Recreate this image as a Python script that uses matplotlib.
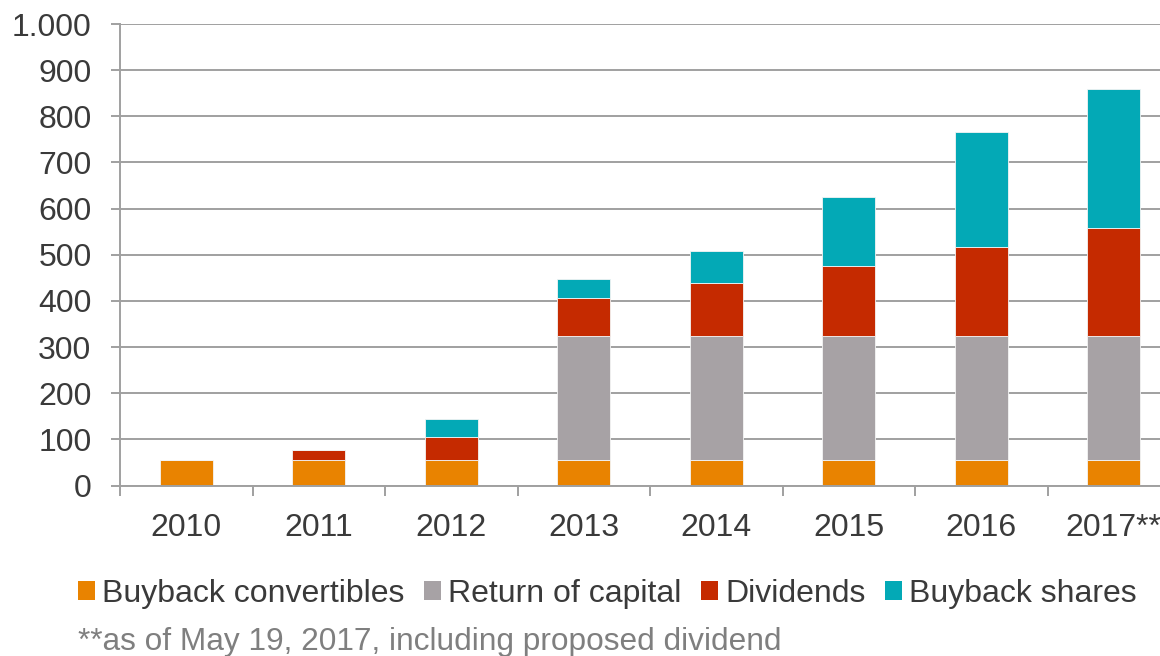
import matplotlib
matplotlib.use("Agg")
import matplotlib.pyplot as plt
import matplotlib.ticker as ticker
from matplotlib.patches import Patch

# Data
years = ["2010", "2011", "2012", "2013", "2014", "2015", "2016", "2017**"]
buyback_convertibles = [55, 55, 55, 55, 55, 55, 55, 55]
return_of_capital = [0, 0, 0, 270, 270, 270, 270, 270]
dividends = [0, 23, 50, 81, 113, 151, 192, 234]
buyback_shares = [0, 0, 40, 42, 70, 150, 250, 301]

series = [
    ("Buyback convertibles", buyback_convertibles, "#E98300"),
    ("Return of capital", return_of_capital, "#A7A2A5"),
    ("Dividends", dividends, "#C52A00"),
    ("Buyback shares", buyback_shares, "#03A9B6"),
]

plt.rcParams["font.family"] = ["Liberation Sans", "DejaVu Sans"]
text_color = "#3a3a3a"
grid_color = "#a0a0a0"

fig = plt.figure(figsize=(11.6, 6.56), dpi=100)
# axes runs past the right edge of the figure (cropped like the original)
ax = fig.add_axes([120 / 1160, (656 - 485.5) / 656, 1060 / 1160, 461.5 / 656])

x = list(range(len(years)))
bottom = [0] * len(years)
for name, values, color in series:
    ax.bar(x, values, width=0.4, bottom=bottom, color=color,
           edgecolor="#f4f4f4", linewidth=0.6, label=name, zorder=2)
    bottom = [b + v for b, v in zip(bottom, values)]

ax.set_xlim(-0.5, len(years) - 0.5)
ax.set_ylim(0, 1000)

# Y axis
ax.yaxis.set_major_locator(ticker.MultipleLocator(100))
ax.yaxis.set_major_formatter(ticker.FuncFormatter(lambda v, p: f"{int(v):,}".replace(",", ".")))
ax.grid(axis="y", color=grid_color, linewidth=1.4, zorder=0)
ax.set_axisbelow(True)
ax.tick_params(axis="y", length=6.5, width=1.4, color=grid_color,
               labelsize=23, labelcolor=text_color, pad=14)

# X axis: ticks between categories, labels centred
ax.xaxis.set_major_locator(ticker.FixedLocator([i - 0.5 for i in range(len(years) + 1)]))
ax.xaxis.set_major_formatter(ticker.NullFormatter())
ax.xaxis.set_minor_locator(ticker.FixedLocator(x))
ax.xaxis.set_minor_formatter(ticker.FixedFormatter(years))
ax.tick_params(axis="x", which="major", length=7, width=1.4, color=grid_color)
ax.tick_params(axis="x", which="minor", length=0, labelsize=23,
               labelcolor=text_color, pad=20)

for side in ["top", "right"]:
    ax.spines[side].set_visible(False)
for side in ["left", "bottom"]:
    ax.spines[side].set_color(grid_color)
    ax.spines[side].set_linewidth(1.4)

# Legend
handles = [Patch(facecolor=c, edgecolor="none", label=n) for n, v, c in series]
fig.legend(handles=handles, loc="center left", bbox_to_anchor=(78 / 1160, 1 - 594 / 656),
           ncol=4, frameon=False, fontsize=23, labelcolor=text_color,
           handlelength=0.53, handleheight=0.53, handletextpad=0.22,
           columnspacing=0.62, borderpad=0, borderaxespad=0)

# Footnote
fig.text(78 / 1160, 1 - 650 / 656, "**as of May 19, 2017, including proposed dividend",
         fontsize=22.8, color="#7f7f7f", va="baseline", ha="left")

fig.savefig("out.png", dpi=100)
